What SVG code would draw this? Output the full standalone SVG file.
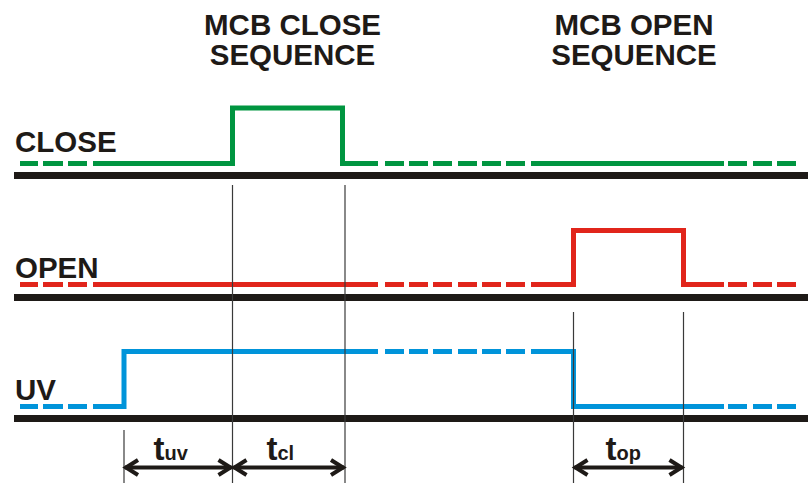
<svg xmlns="http://www.w3.org/2000/svg" width="808" height="483" viewBox="0 0 808 483">
<style>
.lbl{font-family:"Liberation Sans",Arial,sans-serif;font-weight:bold;fill:#1e1a17}
.axis{stroke:#1e1a17;stroke-width:7;fill:none}
.sig{stroke-width:5;fill:none;stroke-linecap:butt;stroke-linejoin:miter}
.g{stroke:#009540}
.r{stroke:#e1251b}
.b{stroke:#0094da}
.thin{stroke:#3a3a3a;stroke-width:1.2;fill:none}
.arr{stroke:#1e1a17;stroke-width:4;fill:none;stroke-linejoin:miter}
</style>
<rect width="808" height="483" fill="#ffffff"/>
<g id="titles">
<text class="lbl" x="292.5" y="35" font-size="29.5" text-anchor="middle">MCB CLOSE</text>
<text class="lbl" x="292.5" y="65" font-size="29.5" text-anchor="middle">SEQUENCE</text>
<text class="lbl" x="634" y="35" font-size="29.5" text-anchor="middle">MCB OPEN</text>
<text class="lbl" x="634" y="65" font-size="29.5" text-anchor="middle">SEQUENCE</text>
</g>
<g id="axes">
<line class="axis" x1="14" y1="175.5" x2="808" y2="175.5"/>
<line class="axis" x1="14" y1="297.5" x2="808" y2="297.5"/>
<line class="axis" x1="14" y1="418.5" x2="808" y2="418.5"/>
</g>
<g id="signal-close">
<text class="lbl" x="15" y="151.5" font-size="29.5">CLOSE</text>
<path class="sig g" d="M20 163.5H38M43 163.5H63M68 163.5H87"/>
<polyline class="sig g" points="93,163.5 232.5,163.5 232.5,108 342.5,108 342.5,163.5 378,163.5"/>
<path class="sig g" d="M385 163.5H404M409 163.5H428M433 163.5H452M458 163.5H477M482 163.5H501M506 163.5H525M531 163.5H724M728 163.5H747M753 163.5H772M777 163.5H796"/>
</g>
<g id="signal-open">
<text class="lbl" x="15" y="278" font-size="29.5">OPEN</text>
<path class="sig r" d="M20 284.5H38M43 284.5H63M68 284.5H87M93 284.5H378M385 284.5H404M409 284.5H428M433 284.5H452M458 284.5H477M482 284.5H501M506 284.5H525"/>
<polyline class="sig r" points="531,284.5 573.5,284.5 573.5,230.5 683.5,230.5 683.5,284.5 724,284.5"/>
<path class="sig r" d="M728 284.5H747M753 284.5H772M777 284.5H796"/>
</g>
<g id="signal-uv">
<text class="lbl" x="15" y="400" font-size="29.5">UV</text>
<path class="sig b" d="M20 406.5H38M43 406.5H63M68 406.5H87"/>
<polyline class="sig b" points="93,406.5 124,406.5 124,351.5 378,351.5"/>
<path class="sig b" d="M385 351.5H404M409 351.5H428M433 351.5H452M458 351.5H477M482 351.5H501M506 351.5H525"/>
<polyline class="sig b" points="531,351.5 573.5,351.5 573.5,406.5 724,406.5"/>
<path class="sig b" d="M728 406.5H747M753 406.5H772M777 406.5H796"/>
</g>
<g id="connectors">
<line class="thin" x1="232.5" y1="185" x2="232.5" y2="483"/>
<line class="thin" x1="345" y1="185" x2="345" y2="483"/>
<line class="thin" x1="124" y1="430" x2="124" y2="483"/>
<line class="thin" x1="573.5" y1="312" x2="573.5" y2="483"/>
<line class="thin" x1="683.5" y1="312" x2="683.5" y2="483"/>
<line class="arr" x1="125" y1="467.5" x2="231.5" y2="467.5"/>
<line class="arr" x1="233.5" y1="467.5" x2="344" y2="467.5"/>
<line class="arr" x1="574.5" y1="467.5" x2="682.5" y2="467.5"/>
<polyline class="arr" points="138,460 126,467.5 138,475"/>
<polyline class="arr" points="218.5,460 230.5,467.5 218.5,475"/>
<polyline class="arr" points="246.5,460 234.5,467.5 246.5,475"/>
<polyline class="arr" points="331,460 343,467.5 331,475"/>
<polyline class="arr" points="587.5,460 575.5,467.5 587.5,475"/>
<polyline class="arr" points="669.5,460 681.5,467.5 669.5,475"/>
</g>
<g id="intervals">
<text class="lbl" x="153.5" y="460" font-size="33">t<tspan font-size="20">uv</tspan></text>
<text class="lbl" x="266.5" y="460" font-size="33">t<tspan font-size="20">cl</tspan></text>
<text class="lbl" x="605.5" y="460" font-size="33">t<tspan font-size="20">op</tspan></text>
</g>
</svg>
